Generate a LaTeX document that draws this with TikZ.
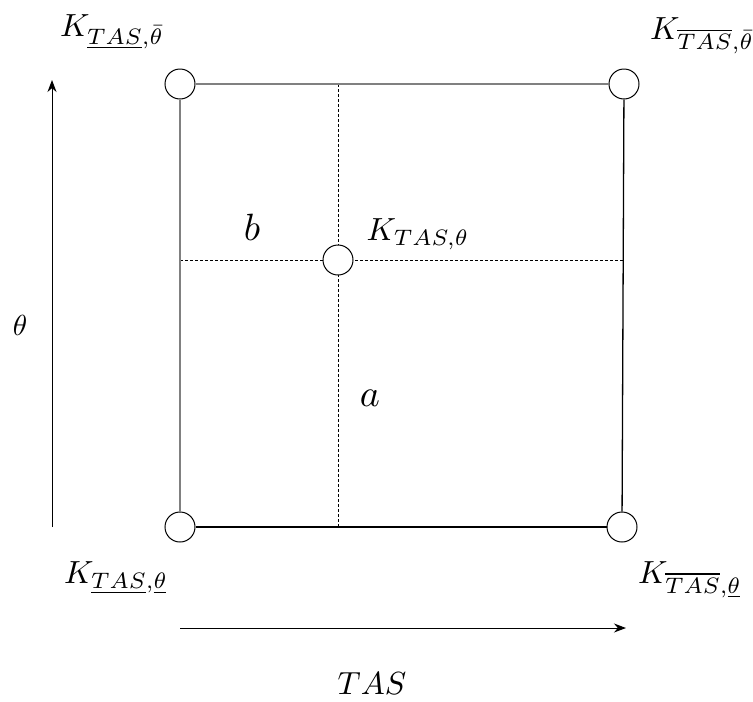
\documentclass[tikz,border=0pt]{standalone}
\usepackage{graphicx}
\usepackage{amsmath}
\usetikzlibrary{arrows.meta}
\newcommand{\sclmath}[2]{\scalebox{#1}{$#2$}}
\begin{document}
\begin{tikzpicture}[x=1pt,y=-1pt,
  vtx/.style={circle,draw,line width=1pt,minimum size=30pt,inner sep=0pt,fill=white},
  lab/.style={inner sep=0pt},
  edge/.style={line width=1.3pt},
  dsh/.style={dashed,line width=0.8pt,dash pattern=on 3pt off 2pt},
  arr/.style={-{Stealth[length=12pt,width=9pt]},line width=1pt}]
\useasboundingbox (0,0) rectangle (753,702);
\node[vtx] (tl) at (180,84) {};
\node[vtx] (tr) at (624,84) {};
\node[vtx] (bl) at (180,527) {};
\node[vtx] (br) at (622,527) {};
\coordinate (tm) at (338,84);
\coordinate (bm) at (338,527);
\coordinate (lm) at (180,260);
\coordinate (rm) at (624,260);
\draw[dsh] (tm) -- (bm);
\draw[dsh] (lm) -- (rm);
\node[vtx] (c) at (338,260) {};
\draw[edge,gray] (tl) -- (tr);
\draw[edge,gray] (tl) -- (bl);
\draw[edge] (tr) -- (br);
\draw[edge] (bl) -- (br);
\node[lab] (ltl) at (112,32) {\sclmath{3.2}{K_{\underline{TAS},\bar{\theta}}}};
\node[lab] (ltr) at (702,36) {\sclmath{3.2}{K_{\overline{TAS},\bar{\theta}}}};
\node[lab] (lbl) at (116,578) {\sclmath{3.2}{K_{\underline{TAS},\underline{\theta}}}};
\node[lab] (lbr) at (690,580) {\sclmath{3.2}{K_{\overline{TAS},\underline{\theta}}}};
\node[lab] (lc) at (418,234) {\sclmath{3.2}{K_{TAS,\theta}}};
\node[lab] (b) at (252,227) {\sclmath{3.8}{b}};
\node[lab] (a) at (370,398) {\sclmath{3.8}{a}};
\node[lab] (th) at (20,325) {\sclmath{2.9}{\theta}};
\node[lab] (tas) at (372,684) {\sclmath{3.2}{TAS}};
\coordinate (v0) at (52,527);
\coordinate (v1) at (52,80);
\coordinate (h0) at (180,628);
\coordinate (h1) at (626,628);
\draw[arr] (v0) -- (v1);
\draw[arr] (h0) -- (h1);
\end{tikzpicture}
\end{document}
